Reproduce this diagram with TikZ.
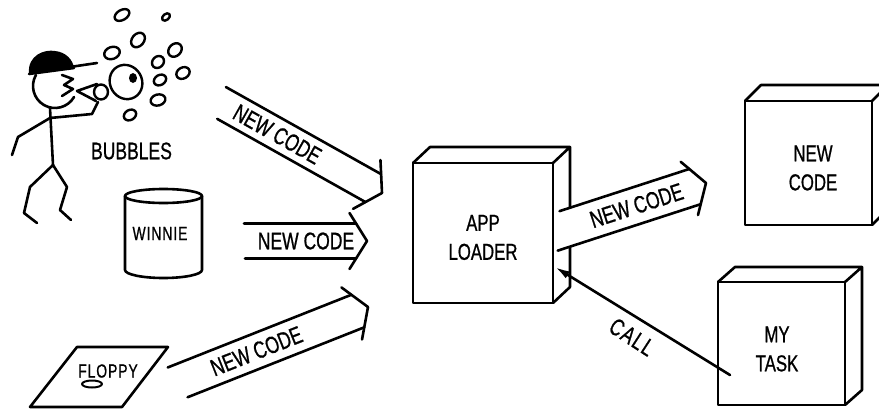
\documentclass[tikz,border=0pt]{standalone}
\usepackage{fontspec}
\setmainfont{Liberation Sans}[FakeStretch=0.73,FakeBold=0.8]
\usetikzlibrary{arrows.meta,calc}

% lettering sizes
\newcommand\cdlabelfont{\fontsize{24}{29}\selectfont}
\newcommand\cdboxfont{\fontsize{23}{29}\selectfont}
\newcommand\cdsmallfont{\fontsize{19}{22}\selectfont\addfontfeatures{LetterSpace=5}}

\tikzset{
  ink/.style={line width=2.6pt,line join=round,line cap=round},
  cube/.style={draw,ink,fill=white,outer sep=0pt,inner sep=0pt},
  cubetext/.style={align=center,font=\cdboxfont,inner sep=0pt},
  lbl/.style={font=\cdlabelfont,inner sep=0pt},
  small/.style={font=\cdsmallfont,inner sep=0pt},
  bubble/.style={ink,line width=2.4pt},
  % wide hollow arrow, tip at the origin, pointing along +x
  % #1 half width of the shaft, #2 start of the upper edge, #3 start of the lower edge
  pics/fatarrow/.style args={#1/#2/#3}{code={
    \fill[white] (#2,#1) -- ({-0.625*#1},#1) -- (0,0) -- ({-0.625*#1},-#1) -- (#3,-#1) -- cycle;
    \draw[ink] (#2,#1) -- ({-0.625*#1},#1);
    \draw[ink] (#3,-#1) -- ({-0.625*#1},-#1);
    \draw[ink] (-17.5,28) -- (0,0) -- (-17.5,-28);
  }},
}

\begin{document}
\begin{tikzpicture}[x=1pt,y=1pt]
\useasboundingbox (0,0) rectangle (879,-410);
\clip (0,0) rectangle (879,-410);

% ---------- the bubble blower ----------
% cap and visor
\fill (29,-74) .. controls (27,-55) and (45,-49) .. (55,-51)
      .. controls (66,-52) and (73,-60) .. (74,-68) -- cycle;
\draw[ink] (29,-74) -- (74,-68);
\draw[ink] (70,-67) -- (97,-63);
% head
\draw[ink] (55,-86) ++(150:22) arc[start angle=150,end angle=330,radius=22];
% face
\draw[ink] (62,-75) -- (73,-79) -- (64,-85) -- (73,-89) -- (62,-96);
\draw[ink] (97,-84) -- (77,-91) -- (96,-101);
% body, arms and legs
\draw[ink] (50,-108) -- (53,-165);
\draw[ink] (50,-118) -- (92,-114) -- (98,-102);
\draw[ink] (50,-118) -- (18,-137) -- (12,-155);
\draw[ink] (53,-165) -- (30,-187) -- (24,-213) -- (37,-223);
\draw[ink] (53,-165) -- (67,-187) -- (60,-210) -- (71,-220);
% wand ring and the bubble on it
\draw[bubble] (101,-92) ellipse[x radius=7,y radius=7.5];
\draw[bubble] (126,-82) ellipse[x radius=16,y radius=17.5,rotate=30];
\fill (133,-78) ellipse[x radius=4,y radius=5];
% floating bubbles
\foreach \bx/\by/\rx/\ry/\rot in {
  122/15/8/5/30, 166/17/4.5/3/40, 138/40/8/6/50, 112/53/8/6/20,
  175/50/7.5/6/45, 158/62/6.5/5.5/45, 183/73/7/5.5/30, 160/80/6.5/5/30,
  158/100/7.5/5.5/15, 130/115/6.5/5/30}
  \draw[bubble] (\bx,-\by) ellipse[x radius=\rx,y radius=\ry,rotate=\rot];
\node[lbl] (bubbles) at (131.5,-151) {BUBBLES};

% ---------- WINNIE drum ----------
\draw[ink] (163.5,-196) ellipse[x radius=38.5,y radius=7];
\draw[ink] (125,-196) -- (125,-270) arc[start angle=180,end angle=360,x radius=38.5,y radius=8] -- (202,-196);
\node[small] (winnie) at (160,-233.5) {WINNIE};

% ---------- FLOPPY disk ----------
\draw[ink] (77,-347) -- (168,-347) -- (122,-407) -- (30,-407) -- cycle;
\node[small] (floppy) at (108,-371) {FLOPPY};
\draw[ink,line width=2pt] (92,-384) ellipse[x radius=10,y radius=3.5];

% ---------- boxes ----------
\node[cube,minimum width=140pt,minimum height=140pt] (loader) at (483,-233) {};
\node[cube,minimum width=127pt,minimum height=124pt] (newbox) at (808.5,-163) {};
\node[cube,minimum width=127pt,minimum height=123pt] (task) at (781.5,-343.5) {};
\foreach \b/\dx/\dy in {loader/17/16, newbox/16/16, task/17/15}
  \draw[ink] (\b.north west) -- ++(\dx,\dy) -- ($(\b.north east)+(\dx,\dy)$) -- (\b.north east)
             ($(\b.north east)+(\dx,\dy)$) -- ($(\b.south east)+(\dx,\dy)$) -- (\b.south east);
\node[cubetext] (loadertext) at ($(loader.center)+(0,-4.5)$) {APP\\LOADER};
\node[cubetext] (newboxtext) at ($(newbox.center)+(4.5,-5)$) {NEW\\CODE};
\node[cubetext] (tasktext) at ($(task.center)+(-4.5,-5.5)$) {MY\\TASK};

% ---------- NEW CODE arrows ----------
\begin{scope}[shift={(382,-193)},rotate=-29.3]
  \pic[transform shape] {fatarrow=16/-188/-180};
  \node[lbl,transform shape] (codeA) at (-120,0) {NEW CODE};
\end{scope}
\begin{scope}[shift={(367,-241)}]
  \pic[transform shape] {fatarrow=17.5/-123/-122};
  \node[lbl] (codeB) at (-61,0) {NEW CODE};
\end{scope}
\begin{scope}[shift={(368,-307)},rotate=21.6]
  \pic[transform shape] {fatarrow=17.5/-208.5/-201};
  \node[lbl,transform shape] (codeC) at (-120,0) {NEW CODE};
\end{scope}
\begin{scope}[shift={(706,-183)},rotate=18]
  \pic[transform shape] {fatarrow=18.5/-148/-162};
  \node[lbl,transform shape] (codeD) at (-73,0) {NEW CODE};
\end{scope}

% ---------- CALL ----------
\coordinate (callfrom) at ($(task.south west)+(12,30)$);
\coordinate (callto) at ($(loader.south east)+(2,36)$);
\draw[ink,-{Latex[length=15pt,width=8pt]}] (callfrom) -- (callto);
\node[lbl,rotate=-33,font=\cdlabelfont\addfontfeatures{LetterSpace=6}] (call) at (632,-337) {CALL};
\end{tikzpicture}
\end{document}
